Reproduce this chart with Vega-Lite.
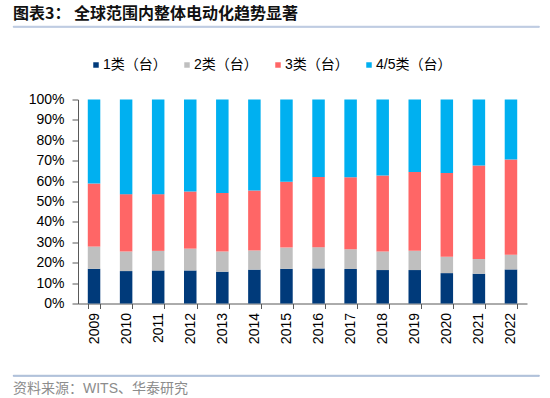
{
  "$schema": "https://vega.github.io/schema/vega-lite/v6.json",
  "padding": {"top": 5, "left": 12, "right": 0, "bottom": 0},
  "background": "white",
  "config": {"view": {"stroke": null}},
  "title": {
    "text": "图表3：  全球范围内整体电动化趋势显著",
    "anchor": "start",
    "frame": "group",
    "font": "Noto Sans CJK SC",
    "fontSize": 16,
    "fontWeight": "bold",
    "color": "#111111",
    "offset": 4
  },
  "bounds": "flush",
  "spacing": 0,
  "resolve": {"scale": {"color": "independent"}, "legend": {"color": "independent"}},
  "vconcat": [
    {
      "bounds": "full",
      "spacing": 29.5,
      "resolve": {"scale": {"color": "independent"}, "legend": {"color": "independent"}},
      "vconcat": [
        {
          "width": 526,
          "height": 1,
          "data": {"values": []},
          "mark": "point",
          "view": {"stroke": "#A3B8D5", "strokeWidth": 0.8}
        },
        {
          "bounds": "flush",
          "spacing": 0,
          "resolve": {"scale": {"color": "independent"}, "legend": {"color": "independent"}},
          "hconcat": [
            {
              "width": 64.7,
              "height": 204,
              "data": {"values": []},
              "mark": "point"
            },
            {
              "width": 449,
              "height": 204,
              "data": {
                "values": [
                  {"year": "2009", "cat": "1类（台）", "value": 17.0},
                  {"year": "2009", "cat": "2类（台）", "value": 10.9},
                  {"year": "2009", "cat": "3类（台）", "value": 30.9},
                  {"year": "2009", "cat": "4/5类（台）", "value": 41.2},
                  {"year": "2010", "cat": "1类（台）", "value": 15.9},
                  {"year": "2010", "cat": "2类（台）", "value": 9.6},
                  {"year": "2010", "cat": "3类（台）", "value": 28.1},
                  {"year": "2010", "cat": "4/5类（台）", "value": 46.4},
                  {"year": "2011", "cat": "1类（台）", "value": 16.2},
                  {"year": "2011", "cat": "2类（台）", "value": 9.6},
                  {"year": "2011", "cat": "3类（台）", "value": 27.8},
                  {"year": "2011", "cat": "4/5类（台）", "value": 46.4},
                  {"year": "2012", "cat": "1类（台）", "value": 16.2},
                  {"year": "2012", "cat": "2类（台）", "value": 10.7},
                  {"year": "2012", "cat": "3类（台）", "value": 28.0},
                  {"year": "2012", "cat": "4/5类（台）", "value": 45.1},
                  {"year": "2013", "cat": "1类（台）", "value": 15.6},
                  {"year": "2013", "cat": "2类（台）", "value": 9.9},
                  {"year": "2013", "cat": "3类（台）", "value": 28.7},
                  {"year": "2013", "cat": "4/5类（台）", "value": 45.8},
                  {"year": "2014", "cat": "1类（台）", "value": 16.6},
                  {"year": "2014", "cat": "2类（台）", "value": 9.4},
                  {"year": "2014", "cat": "3类（台）", "value": 29.4},
                  {"year": "2014", "cat": "4/5类（台）", "value": 44.6},
                  {"year": "2015", "cat": "1类（台）", "value": 17.0},
                  {"year": "2015", "cat": "2类（台）", "value": 10.4},
                  {"year": "2015", "cat": "3类（台）", "value": 32.3},
                  {"year": "2015", "cat": "4/5类（台）", "value": 40.3},
                  {"year": "2016", "cat": "1类（台）", "value": 17.2},
                  {"year": "2016", "cat": "2类（台）", "value": 10.4},
                  {"year": "2016", "cat": "3类（台）", "value": 34.4},
                  {"year": "2016", "cat": "4/5类（台）", "value": 38.0},
                  {"year": "2017", "cat": "1类（台）", "value": 16.9},
                  {"year": "2017", "cat": "2类（台）", "value": 9.7},
                  {"year": "2017", "cat": "3类（台）", "value": 35.3},
                  {"year": "2017", "cat": "4/5类（台）", "value": 38.1},
                  {"year": "2018", "cat": "1类（台）", "value": 16.4},
                  {"year": "2018", "cat": "2类（台）", "value": 9.1},
                  {"year": "2018", "cat": "3类（台）", "value": 37.3},
                  {"year": "2018", "cat": "4/5类（台）", "value": 37.2},
                  {"year": "2019", "cat": "1类（台）", "value": 16.4},
                  {"year": "2019", "cat": "2类（台）", "value": 9.4},
                  {"year": "2019", "cat": "3类（台）", "value": 38.6},
                  {"year": "2019", "cat": "4/5类（台）", "value": 35.6},
                  {"year": "2020", "cat": "1类（台）", "value": 14.9},
                  {"year": "2020", "cat": "2类（台）", "value": 8.0},
                  {"year": "2020", "cat": "3类（台）", "value": 41.1},
                  {"year": "2020", "cat": "4/5类（台）", "value": 36.0},
                  {"year": "2021", "cat": "1类（台）", "value": 14.6},
                  {"year": "2021", "cat": "2类（台）", "value": 7.2},
                  {"year": "2021", "cat": "3类（台）", "value": 45.9},
                  {"year": "2021", "cat": "4/5类（台）", "value": 32.3},
                  {"year": "2022", "cat": "1类（台）", "value": 16.7},
                  {"year": "2022", "cat": "2类（台）", "value": 7.2},
                  {"year": "2022", "cat": "3类（台）", "value": 46.7},
                  {"year": "2022", "cat": "4/5类（台）", "value": 29.4}
                ]
              },
              "mark": {"type": "bar"},
              "encoding": {
                "x": {
                  "field": "year",
                  "type": "ordinal",
                  "scale": {"paddingInner": 0.61, "paddingOuter": 0.305},
                  "axis": {
                    "title": null,
                    "labelAngle": -90,
                    "labelFont": "Liberation Sans",
                    "labelFontSize": 14,
                    "labelColor": "#000000",
                    "tickBand": "extent",
                    "tickSize": 5,
                    "labelPadding": 4,
                    "domainColor": "#595959",
                    "tickColor": "#595959"
                  }
                },
                "y": {
                  "field": "value",
                  "type": "quantitative",
                  "stack": "normalize",
                  "scale": {"domain": [0, 1], "nice": false},
                  "axis": {
                    "title": null,
                    "grid": false,
                    "values": [0, 0.1, 0.2, 0.3, 0.4, 0.5, 0.6, 0.7, 0.8, 0.9, 1],
                    "format": ".0%",
                    "labelFont": "Liberation Sans",
                    "labelFontSize": 14,
                    "labelColor": "#000000",
                    "tickSize": 6,
                    "labelPadding": 8,
                    "domainColor": "#595959",
                    "tickColor": "#595959"
                  }
                },
                "order": {"field": "cat", "sort": "ascending"},
                "color": {
                  "field": "cat",
                  "type": "nominal",
                  "scale": {
                    "domain": ["1类（台）", "2类（台）", "3类（台）", "4/5类（台）"],
                    "range": ["#003A7A", "#BFBFBF", "#FF6666", "#00B0F0"]
                  },
                  "legend": {
                    "title": null,
                    "orient": "none",
                    "direction": "horizontal",
                    "legendX": 11,
                    "legendY": -41.5,
                    "padding": 0,
                    "symbolType": "square",
                    "symbolSize": 30,
                    "symbolStrokeWidth": 0,
                    "labelOffset": 0,
                    "columnPadding": 13,
                    "labelFont": "Liberation Sans, Noto Sans CJK SC",
                    "labelFontSize": 14,
                    "labelColor": "#000000"
                  }
                }
              }
            }
          ]
        },
        {
          "width": 526,
          "height": 1,
          "data": {"values": []},
          "mark": "point",
          "view": {"stroke": "#8FA7CC", "strokeWidth": 0.8},
          "title": {
            "text": "资料来源：WITS、华泰研究",
            "orient": "bottom",
            "anchor": "start",
            "font": "Liberation Sans, Noto Sans CJK SC",
            "fontSize": 14,
            "fontWeight": "normal",
            "color": "#8C8C8C",
            "offset": 6
          }
        }
      ]
    }
  ]
}
